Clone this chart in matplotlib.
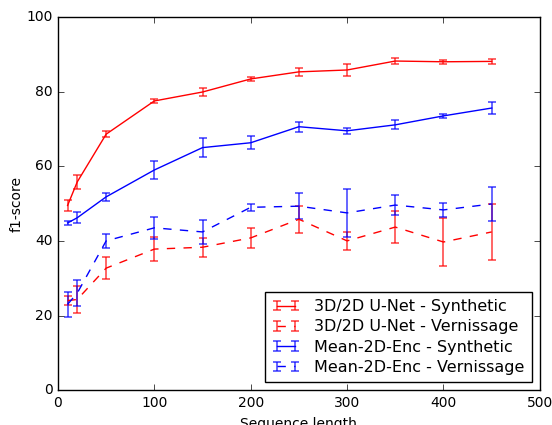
import matplotlib
matplotlib.use("Agg")
import matplotlib.pyplot as plt
from matplotlib.container import ErrorbarContainer
from matplotlib.legend_handler import HandlerErrorbar

plt.style.use("classic")

seq_len = [10, 20, 50, 100, 150, 200, 250, 300, 350, 400, 450]

unet_syn = [49.5, 55.8, 68.6, 77.5, 79.9, 83.4, 85.3, 85.8, 88.2, 88.0, 88.1]
unet_syn_err = [1.5, 1.8, 0.8, 0.6, 1.2, 0.5, 1.0, 1.5, 0.8, 0.6, 0.7]

unet_ver = [24.0, 24.3, 32.7, 37.8, 38.3, 40.8, 45.8, 40.0, 43.7, 39.7, 42.4]
unet_ver_err = [1.2, 3.6, 3.0, 3.2, 2.5, 2.7, 3.6, 2.4, 4.3, 6.4, 7.5]

enc_syn = [44.8, 46.2, 51.8, 59.0, 65.0, 66.3, 70.6, 69.5, 71.1, 73.5, 75.6]
enc_syn_err = [0.6, 1.5, 1.1, 2.4, 2.5, 1.8, 1.3, 0.8, 1.2, 0.6, 1.7]

enc_ver = [23.0, 26.0, 40.0, 43.5, 42.4, 49.0, 49.3, 47.5, 49.6, 48.3, 49.9]
enc_ver_err = [3.3, 3.5, 1.8, 2.9, 3.3, 1.0, 3.5, 6.4, 2.7, 1.9, 4.5]

fig = plt.figure(figsize=(5.52, 4.25), dpi=100, facecolor="white")
ax = fig.add_axes([0.105, 0.082, 0.873, 0.878])

series = [
    (unet_syn, unet_syn_err, "r", "-", "3D/2D U-Net - Synthetic"),
    (unet_ver, unet_ver_err, "r", "--", "3D/2D U-Net - Vernissage"),
    (enc_syn, enc_syn_err, "b", "-", "Mean-2D-Enc - Synthetic"),
    (enc_ver, enc_ver_err, "b", "--", "Mean-2D-Enc - Vernissage"),
]
for vals, err, c, ls, lab in series:
    line, caps, bars = ax.errorbar(seq_len, vals, yerr=err, color=c, linestyle=ls,
                                   linewidth=1, elinewidth=1.2, capsize=3,
                                   capthick=1.2, label=lab)
    for cap in caps:
        cap.set_alpha(0.7)
    for b in bars:
        b.set_alpha(0.7)

ax.set_xlim(0, 500)
ax.set_ylim(0, 100)
ax.set_xticks([0, 100, 200, 300, 400, 500])
ax.set_yticks([0, 20, 40, 60, 80, 100])
ax.tick_params(labelsize=10)
ax.set_xlabel("Sequence length", fontsize=10)
ax.set_ylabel("f1-score", fontsize=10, labelpad=2)
ax.legend(loc=4, fontsize=11.5, numpoints=2, labelspacing=0.33,
          handlelength=1.75, handletextpad=0.9, borderpad=0.45,
          handler_map={ErrorbarContainer: HandlerErrorbar(xerr_size=0.3, yerr_size=0.3)})

fig.savefig("out.png", dpi=100, facecolor="white")
